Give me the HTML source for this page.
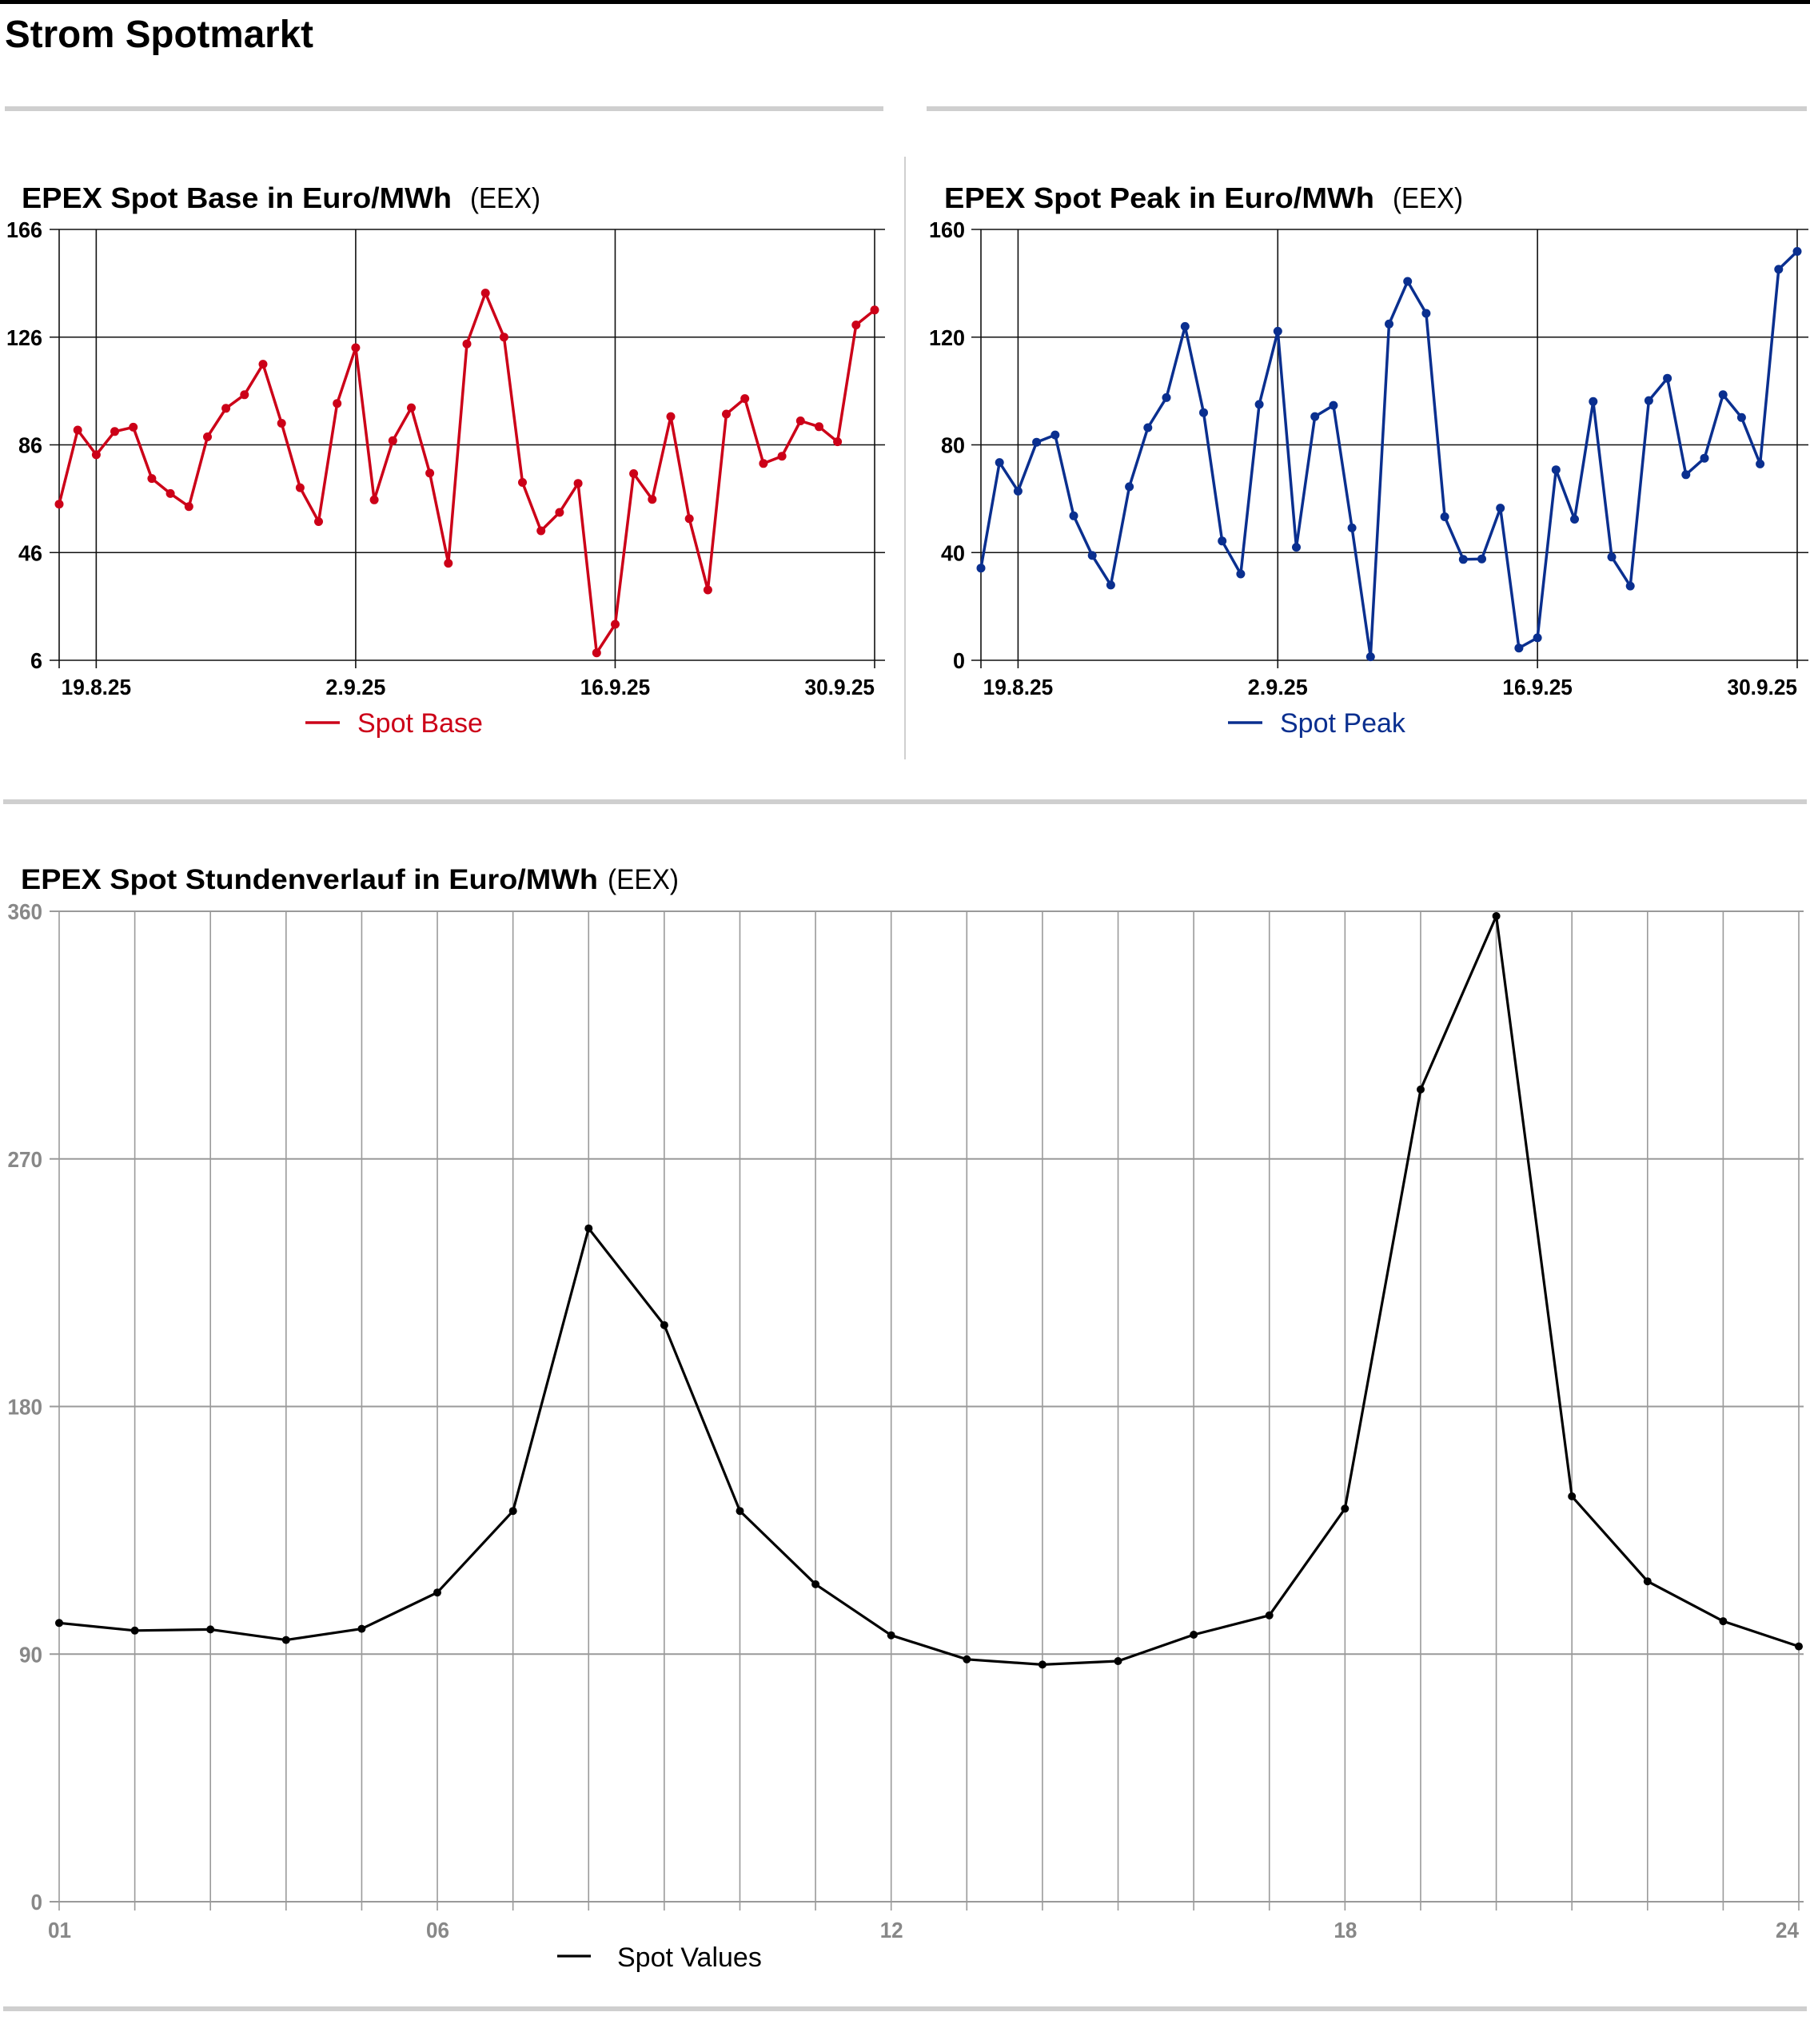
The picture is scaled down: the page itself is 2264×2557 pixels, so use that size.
<!DOCTYPE html>
<html><head><meta charset="utf-8">
<style>
html,body{margin:0;padding:0;background:#fff;}
svg{display:block;}
text{font-family:"Liberation Sans",sans-serif;}
</style></head>
<body>
<svg id="s" width="2264" height="2557" viewBox="0 0 2264 2557" xmlns="http://www.w3.org/2000/svg">
<rect x="0" y="0" width="2264" height="5" fill="#000"/>
<text x="6" y="59" font-size="48" font-weight="bold" textLength="386" lengthAdjust="spacingAndGlyphs">Strom Spotmarkt</text>
<rect x="6" y="133" width="1099" height="6" fill="#cfcfcf"/>
<rect x="1159" y="133" width="1101" height="6" fill="#cfcfcf"/>
<rect x="1131" y="196" width="2" height="754" fill="#d0d0d0"/>
<rect x="4" y="1000" width="2256" height="6" fill="#cfcfcf"/>
<rect x="4" y="2510" width="2256" height="6" fill="#cfcfcf"/>
<text x="27" y="260" font-size="36" font-weight="bold" textLength="538" lengthAdjust="spacingAndGlyphs">EPEX Spot Base in Euro/MWh</text>
<text x="588" y="260" font-size="36" textLength="88" lengthAdjust="spacingAndGlyphs">(EEX)</text>
<text x="1181" y="260" font-size="36" font-weight="bold" textLength="538" lengthAdjust="spacingAndGlyphs">EPEX Spot Peak in Euro/MWh</text>
<text x="1742" y="260" font-size="36" textLength="88" lengthAdjust="spacingAndGlyphs">(EEX)</text>
<text x="26" y="1112" font-size="35" font-weight="bold" textLength="722" lengthAdjust="spacingAndGlyphs">EPEX Spot Stundenverlauf in Euro/MWh</text>
<text x="760" y="1112" font-size="35" textLength="89" lengthAdjust="spacingAndGlyphs">(EEX)</text>
<g id="g"></g>
</svg>
<script>
(function(){
var NS="http://www.w3.org/2000/svg",G=document.getElementById("g");
function el(t,a,txt){var e=document.createElementNS(NS,t);for(var k in a)e.setAttribute(k,a[k]);if(txt!==undefined)e.textContent=txt;G.appendChild(e);return e;}
function drawTop(ax,x0,step,right,ylab,ys,col,legX,legName,labR){
  var yT=287,yB=826;
  for(var i=0;i<5;i++){var y=yT+i*(yB-yT)/4;
    el("line",{x1:ax-12,y1:y,x2:right,y2:y,stroke:"#111","stroke-width":1.6});
    el("text",{x:labR,y:y+10,"font-size":28,"font-weight":"bold","text-anchor":"end",textLength:ylab[i].length*15,lengthAdjust:"spacingAndGlyphs"},ylab[i]);}
  el("line",{x1:ax,y1:yT,x2:ax,y2:yB+10,stroke:"#111","stroke-width":1.6});
  var dl=["19.8.25","2.9.25","16.9.25","30.9.25"];
  for(var j=0;j<4;j++){var x=x0+2*step+j*14*step;
    el("line",{x1:x,y1:yT,x2:x,y2:yB+10,stroke:"#111","stroke-width":1.6});
    var w=dl[j].length*12.5;
    el("text",{x:(j==3?x-w:x-w/2),y:869,"font-size":28,"font-weight":"bold",textLength:w,lengthAdjust:"spacingAndGlyphs"},dl[j]);}
  var pts=ys.map(function(v,i){return [(x0+i*step).toFixed(1),(v/1.6505).toFixed(1)];});
  el("polyline",{points:pts.map(function(p){return p.join(",");}).join(" "),fill:"none",stroke:col,"stroke-width":3.5,"stroke-linejoin":"round"});
  pts.forEach(function(p){el("circle",{cx:p[0],cy:p[1],r:5.5,fill:col});});
  el("line",{x1:legX,y1:904,x2:legX+43,y2:904,stroke:col,"stroke-width":3.5});
  el("text",{x:legX+65,y:916,"font-size":34,fill:col},legName);
}
var base=[1041,888,939,891,882,988,1019,1046,902,843,815,752,874,1007,1077,833,718,1032,910,842,977,1163,710,605,696,996,1096,1058,998,1348,1289,978,1031,860,1071,1218,855,823,957,942,869,881,912,671,640];
var peak=[1173,955,1014,913,898,1065,1147,1208,1005,883,821,674,852,1117,1185,835,684,1130,860,837,1090,1356,669,581,647,1067,1155,1154,1049,1338,1317,970,1072,829,1150,1210,827,781,980,946,815,862,958,556,519];
drawTop(74,74,(1094-74)/44,1107,["166","126","86","46","6"],base,"#cc0018",382,"Spot Base",53);
drawTop(1227,1227,(2248-1227)/44,2262,["160","120","80","40","0"],peak,"#0a2f8f",1536,"Spot Peak",1207);
var x0=74,st=(2250-74)/23,yT=1140,yB=2379;
for(var i=0;i<5;i++){var y=yT+i*(yB-yT)/4;
  el("line",{x1:62,y1:y,x2:2256,y2:y,stroke:"#9a9a9a","stroke-width":2});
  var l=["360","270","180","90","0"][i];
  el("text",{x:53,y:y+10,"font-size":28,"font-weight":"bold",fill:"#888","text-anchor":"end",textLength:l.length*14.5,lengthAdjust:"spacingAndGlyphs"},l);}
for(var h=0;h<24;h++){var x=x0+h*st;
  el("line",{x1:x,y1:yT,x2:x,y2:2390,stroke:"#9a9a9a","stroke-width":1.6});}
[[0,"01"],[5,"06"],[11,"12"],[17,"18"],[23,"24"]].forEach(function(a){var x=x0+a[0]*st;
  el("text",{x:(a[0]==23?x-29:x-14),y:2424,"font-size":28,"font-weight":"bold",fill:"#888",textLength:29,lengthAdjust:"spacingAndGlyphs"},a[1]);});
var hv=[1473,1486,1484,1502,1483,1421,1282,800,965,1282,1407,1494,1535,1544,1538,1493,1460,1278,563,267,1257,1402,1470,1513];
var hp=hv.map(function(v,i){return [(x0+i*st).toFixed(1),(v/1.3635+950).toFixed(1)];});
hp[19][1]=1146;
el("polyline",{points:hp.map(function(p){return p.join(",");}).join(" "),fill:"none",stroke:"#000","stroke-width":3.2,"stroke-linejoin":"round"});
hp.forEach(function(p){el("circle",{cx:p[0],cy:p[1],r:5,fill:"#000"});});
el("line",{x1:697,y1:2447,x2:739,y2:2447,stroke:"#000","stroke-width":3.2});
el("text",{x:772,y:2460,"font-size":34},"Spot Values");
})();
</script>
</body></html>
